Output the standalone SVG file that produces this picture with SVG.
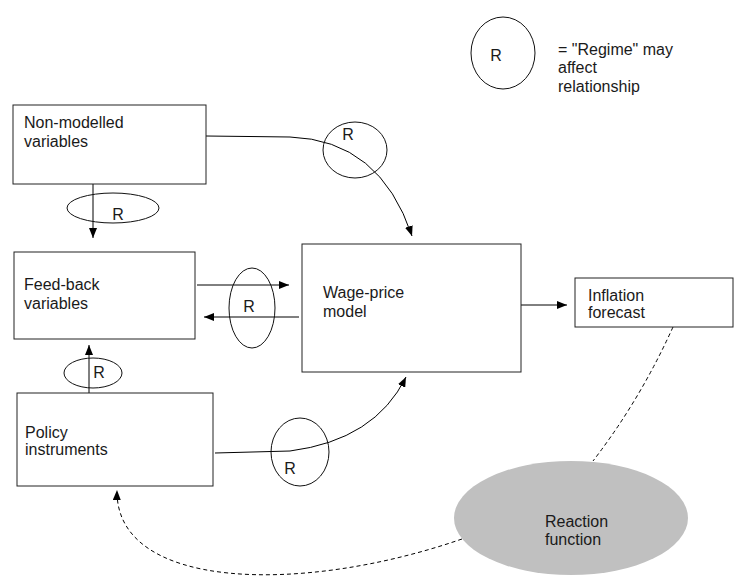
<svg xmlns="http://www.w3.org/2000/svg" width="736" height="579" viewBox="0 0 736 579">
<defs>
<marker id="ah" viewBox="0 0 10 8" refX="10" refY="4" markerWidth="10" markerHeight="8" markerUnits="userSpaceOnUse" orient="auto">
<path d="M0,0 L10,4 L0,8 z" fill="#000"/>
</marker>
</defs>
<style>
text{font-family:"Liberation Sans",Arial,sans-serif;font-size:16px;fill:#1a1a1a}
.box{fill:#fff;stroke:#222;stroke-width:1}
.reg{fill:none;stroke:#111;stroke-width:1}
.con{fill:none;stroke:#000;stroke-width:1}
.dash{fill:none;stroke:#000;stroke-width:1;stroke-dasharray:4 3}
</style>
<rect width="736" height="579" fill="#fff"/>
<g id="connectors">
<path class="con" d="M93,184 L93,238" marker-end="url(#ah)"/>
<path class="con" d="M206,136 L290,137 Q380,140 412,236" marker-end="url(#ah)"/>
<path class="con" d="M197,285 L289,285" marker-end="url(#ah)"/>
<path class="con" d="M299,317 L204,317" marker-end="url(#ah)"/>
<path class="con" d="M89,393 L89,345" marker-end="url(#ah)"/>
<path class="con" d="M215,453 L290,451 Q375,440 406,377" marker-end="url(#ah)"/>
<path class="con" d="M521,305 L567,305" marker-end="url(#ah)"/>
<path class="dash" d="M673,327 Q640,400 593,461"/>
<path class="dash" d="M462,539 C300,595 115,590 117,490" marker-end="url(#ah)"/>
</g>
<g id="legend">
<ellipse class="reg" cx="503" cy="53" rx="32" ry="36"/>
<text x="496" y="61" text-anchor="middle">R</text>
<text x="558" y="55">= "Regime" may</text>
<text x="558" y="73">affect</text>
<text x="558" y="92">relationship</text>
</g>
<g id="non-modelled">
<rect class="box" x="13" y="105" width="193" height="79"/>
<text x="24" y="128">Non-modelled</text>
<text x="24" y="147">variables</text>
</g>
<g id="regime-nm-fb">
<ellipse class="reg" cx="113" cy="208" rx="46" ry="15"/>
<text x="118" y="220" text-anchor="middle">R</text>
</g>
<g id="regime-nm-wp">
<ellipse class="reg" cx="355" cy="150" rx="32" ry="28"/>
<text x="348" y="140" text-anchor="middle">R</text>
</g>
<g id="feed-back">
<rect class="box" x="14" y="252" width="181" height="87"/>
<text x="24" y="290">Feed-back</text>
<text x="24" y="309">variables</text>
</g>
<g id="regime-fb-wp">
<ellipse class="reg" cx="252" cy="308" rx="23" ry="40"/>
<text x="249" y="312" text-anchor="middle">R</text>
</g>
<g id="wage-price">
<rect class="box" x="302" y="244" width="219" height="128"/>
<text x="323" y="298">Wage-price</text>
<text x="323" y="317">model</text>
</g>
<g id="inflation">
<rect class="box" x="575" y="278" width="158" height="49"/>
<text x="588" y="301">Inflation</text>
<text x="588" y="318">forecast</text>
</g>
<g id="regime-pi-fb">
<ellipse class="reg" cx="93" cy="373" rx="29" ry="15"/>
<text x="99" y="378" text-anchor="middle">R</text>
</g>
<g id="policy">
<rect class="box" x="17" y="393" width="196" height="93"/>
<text x="25" y="438">Policy</text>
<text x="25" y="455">instruments</text>
</g>
<g id="regime-pi-wp">
<ellipse class="reg" cx="300" cy="452" rx="29" ry="34"/>
<text x="290" y="474" text-anchor="middle">R</text>
</g>
<g id="reaction">
<ellipse cx="571" cy="518" rx="117" ry="57" fill="#c0c0c0"/>
<text x="545" y="527">Reaction</text>
<text x="545" y="545">function</text>
</g>
</svg>
